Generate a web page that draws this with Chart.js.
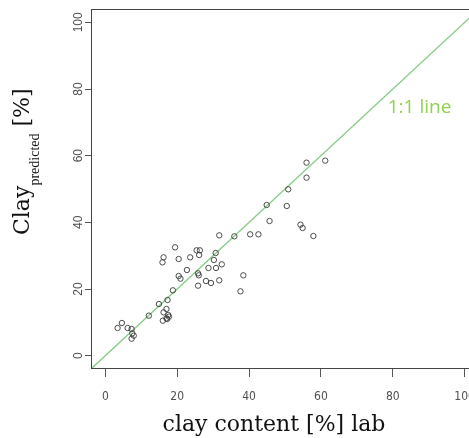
<!DOCTYPE html>
<html lang="en">
<head>
  <meta charset="UTF-8" />
  <title>Clay predicted vs lab</title>
  <style>
    html, body { margin: 0; padding: 0; background: #ffffff; overflow: hidden; }
    canvas { display: block; }
  </style>
</head>
<body>
  <canvas id="clayChart" width="469" height="438"></canvas>

  <script src="https://cdn.jsdelivr.net/npm/chart.js"></script>
  <script>
    // clay content measured in the lab [%]
    const clayLab = [3.4, 4.6, 6.2, 7.3, 7.5, 7.9, 7.3, 12.1, 14.9, 17.3, 16.2, 17.0, 16.0, 17.5, 17.2, 17.7, 17.0,
      18.8, 15.9, 16.2, 19.4, 20.4, 20.4, 20.9, 22.7, 23.6, 25.4, 26.3, 26.1, 25.8, 26.0, 25.8, 28.0, 29.4,
      28.7, 30.2, 30.7, 30.8, 32.4, 31.7, 31.7, 35.9, 37.6, 38.4, 40.3, 42.6, 44.9, 45.7, 50.5, 50.9,
      54.3, 54.9, 57.9, 56.0, 56.0, 61.2];
    // predicted clay content [%]
    const clayPred = [8.3, 9.8, 8.3, 8.0, 6.7, 6.0, 5.1, 12.0, 15.5, 16.7, 13.0, 14.0, 10.5, 12.2, 11.0, 11.7, 11.2,
      19.6, 28.0, 29.5, 32.5, 29.0, 23.9, 23.1, 25.7, 29.5, 31.6, 31.6, 30.2, 24.7, 24.1, 21.0, 22.4, 21.8,
      26.3, 28.7, 30.8, 26.3, 27.4, 22.6, 36.1, 35.8, 19.3, 24.1, 36.4, 36.4, 45.2, 40.4, 44.9, 49.9,
      39.3, 38.3, 35.9, 57.9, 53.4, 58.5];
    const axisTicks = [0, 20, 40, 60, 80, 100];
    const axisRange = [-4, 104];
    const oneToOne = [-4, 104];
    const lineLabel = '1:1 line';
    const lineLabelAt = [78.6, 74.5];

    const setTicks = scale => { scale.ticks = axisTicks.map(v => ({ value: v })); };

    // the plot box runs past the right edge of the picture, as in the original
    const widenPlot = {
      id: 'widenPlot',
      afterLayout(chart) {
        const x = chart.scales.x;
        x.right = x.left + 388;
        x.width = 388;
        x.configure();
        chart.chartArea.right = x.right;
        chart.chartArea.width = x.width;
      }
    };

    // box around the plot, the 1:1 label and the two axis titles
    const decorations = {
      id: 'decorations',
      afterDraw(chart) {
        const { ctx, chartArea: a, scales } = chart;
        ctx.save();
        ctx.strokeStyle = '#444';
        ctx.lineWidth = 1;
        ctx.strokeRect(a.left + 0.5, a.top + 0.5, a.right - a.left - 1, a.bottom - a.top - 1);

        ctx.fillStyle = '#92d050';
        ctx.font = '19px "Open Sans"';
        ctx.textAlign = 'left';
        ctx.textBaseline = 'middle';
        ctx.fillText(lineLabel, scales.x.getPixelForValue(lineLabelAt[0]), scales.y.getPixelForValue(lineLabelAt[1]));

        ctx.fillStyle = '#111';
        ctx.textBaseline = 'alphabetic';
        ctx.textAlign = 'center';
        ctx.font = '22px "DejaVu Serif"';
        ctx.fillText('clay content [%] lab', 274, 431);

        ctx.translate(29, 235);
        ctx.rotate(-Math.PI / 2);
        ctx.textAlign = 'left';
        ctx.font = '22px "DejaVu Serif"';
        ctx.fillText('Clay', 0, 0);
        let w = ctx.measureText('Clay').width;
        ctx.font = '14px "Liberation Serif"';
        ctx.fillText('predicted', w, 10);
        w += ctx.measureText('predicted').width;
        ctx.font = '22px "DejaVu Serif"';
        ctx.fillText(' [%]', w, 0);
        ctx.restore();
      }
    };

    new Chart(document.getElementById('clayChart'), {
      type: 'scatter',
      data: {
        datasets: [
          {
            label: 'samples',
            data: clayLab.map((x, i) => ({ x: x, y: clayPred[i] })),
            pointStyle: 'circle',
            pointRadius: 2.7,
            pointBorderWidth: 0.9,
            pointBorderColor: '#3a3a3a',
            pointBackgroundColor: 'rgba(0,0,0,0)'
          },
          {
            label: lineLabel,
            data: oneToOne.map(v => ({ x: v, y: v })),
            showLine: true,
            borderColor: '#86cc86',
            borderWidth: 1.3,
            pointRadius: 0
          }
        ]
      },
      options: {
        responsive: false,
        animation: false,
        layout: { autoPadding: false, padding: { top: 9, right: 0, left: 0, bottom: 0 } },
        plugins: { legend: { display: false }, tooltip: { enabled: false } },
        scales: {
          x: {
            type: 'linear',
            min: axisRange[0],
            max: axisRange[1],
            afterBuildTicks: setTicks,
            afterFit: s => { s.height = 69; s.paddingLeft = 0; s.paddingRight = 0; },
            grid: { drawOnChartArea: false, tickLength: 8, color: '#555' },
            border: { display: false },
            ticks: {
              maxRotation: 0,
              padding: 13,
              color: '#505050',
              font: { family: '"Liberation Sans Narrow", "DejaVu Sans Condensed", "Liberation Sans", sans-serif', size: 12 }
            }
          },
          y: {
            type: 'linear',
            min: axisRange[0],
            max: axisRange[1],
            afterBuildTicks: setTicks,
            afterFit: s => { s.width = 91; s.paddingTop = 0; s.paddingBottom = 0; },
            grid: { drawOnChartArea: false, tickLength: 6, color: '#555' },
            border: { display: false },
            ticks: {
              minRotation: 90,
              maxRotation: 90,
              crossAlign: 'center',
              padding: -4,
              color: '#505050',
              font: { family: '"Liberation Sans", sans-serif', size: 12 }
            }
          }
        }
      },
      plugins: [widenPlot, decorations]
    });
  </script>
</body>
</html>
